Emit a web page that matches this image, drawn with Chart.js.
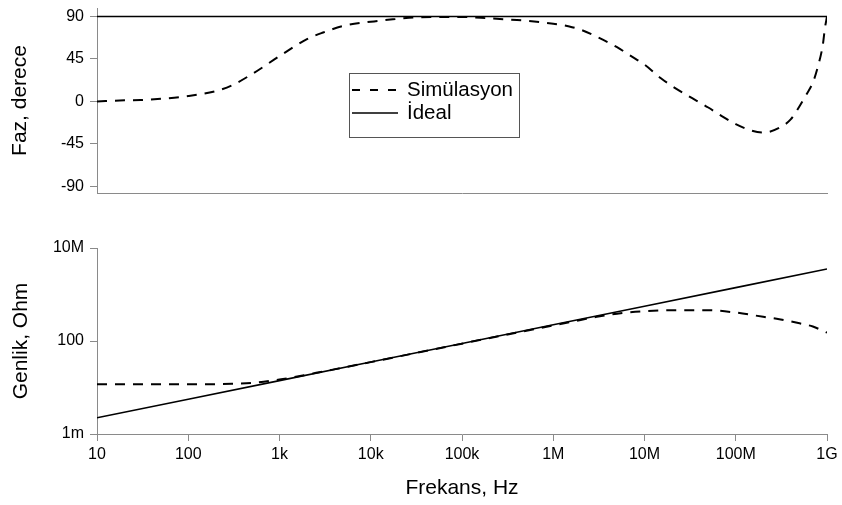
<!DOCTYPE html>
<html lang="tr">
<head>
<meta charset="utf-8">
<title>Faz ve Genlik</title>
<script src="https://cdn.jsdelivr.net/npm/chart.js@4.4.1/dist/chart.umd.min.js"></script>
<style>
  html, body { margin: 0; padding: 0; background: #fff; }
  #wrap { position: relative; width: 842px; height: 505px; }
  #wrap canvas { position: absolute; left: 0; }
  #phase { top: 0; }
  #mag { top: 200px; }
</style>
</head>
<body>
<div id="wrap">
  <canvas id="phase" width="842" height="200"></canvas>
  <canvas id="mag" width="842" height="305"></canvas>
</div>
<script>
// ================== DATA ==================
const xTickVals   = [10, 100, 1e3, 1e4, 1e5, 1e6, 1e7, 1e8, 1e9];
const xTickLabels = ["10", "100", "1k", "10k", "100k", "1M", "10M", "100M", "1G"];

const phaseTickVals = [-90, -45, 0, 45, 90];
const magTickVals   = [1e-3, 1e2, 1e7];
const magTickLabels = ["1m", "100", "10M"];

// phase, degrees (Simülasyon)
const freqPhase = [10, 20, 30, 50, 100, 200, 300, 500, 1e3, 2e3, 3e3, 5e3,
  1e4, 2e4, 3e4, 5e4, 1e5, 2e5, 3e5, 5e5, 1e6, 1.5e6, 2e6, 3e6, 5e6, 7e6,
  1e7, 1.5e7, 2e7, 3e7, 5e7, 7e7, 1e8, 1.5e8, 2e8, 3e8, 4e8, 5e8, 6e8, 7e8, 8e8, 9e8, 9.5e8, 1e9];
const phaseSim = [0, 1.2, 1.5, 2.8, 5.7, 11, 17, 29, 48, 66, 73, 80,
  84.5, 87.5, 89, 89.5, 89.5, 88, 87, 85.6, 82.3, 79.5, 76, 68.5, 57.5, 48.5,
  39, 24.9, 16.3, 6, -6.4, -15.5, -24, -31, -33, -28, -19, -5, 8, 20, 38, 60, 78, 90];

// phase, degrees (İdeal)
const freqPhaseIdeal = [10, 1e9];
const phaseIdeal     = [90, 90];

// magnitude, Ohm (Simülasyon)
const freqMag = [10, 20, 50, 100, 200, 300, 500, 1e3, 2e3, 3e3, 5e3,
  1e4, 1e5, 1e6, 2e6, 3e6, 5e6, 1e7, 2e7, 5e7, 1e8, 2e8, 3e8, 5e8, 7e8, 1e9];
const magSim = [0.47, 0.47, 0.47, 0.47, 0.48, 0.5, 0.56, 0.85, 1.55, 2.3, 3.7,
  7.3, 72, 690, 1350, 2000, 2950, 4000, 4470, 4470, 3390, 2000, 1480, 890, 600, 280];

// magnitude, Ohm (İdeal)
const freqMagIdeal = [10, 100, 1e3, 1e4, 1e5, 1e6, 1e7, 1e8, 1e9];
const magIdeal     = [0.0074, 0.074, 0.74, 7.4, 74, 740, 7400, 74000, 740000];

// ================== HELPERS ==================
const AXIS = "#8a8a8a";
Chart.defaults.font.family = '"Liberation Sans", Arial, sans-serif';
Chart.defaults.color = "#000";

const pts = (xs, ys) => xs.map((x, i) => ({ x, y: ys[i] }));
const fixY = (w) => (s) => { s.width = w; s.paddingTop = 0; s.paddingBottom = 0; };
const fixX = (h) => (s) => { s.height = h; s.paddingLeft = 0; s.paddingRight = 0; };
const setTicks = (vals) => (s) => { s.ticks = vals.map(v => ({ value: v })); };

function simSet(data) {
  return { label: "Simülasyon", data, borderColor: "#000", borderWidth: 2,
    borderDash: [10, 8], pointRadius: 0, cubicInterpolationMode: "monotone", fill: false };
}
function idealSet(data) {
  return { label: "İdeal", data, borderColor: "#000", borderWidth: 1.6,
    pointRadius: 0, fill: false };
}

// boxed legend inside the phase panel
const boxLegend = {
  id: "boxLegend",
  afterDraw(chart, args, o) {
    const { ctx } = chart;
    ctx.save();
    ctx.fillStyle = "#fff";
    ctx.fillRect(o.x, o.y, o.w, o.h);
    ctx.strokeStyle = "#555";
    ctx.lineWidth = 1;
    ctx.strokeRect(o.x + 0.5, o.y + 0.5, o.w, o.h);
    ctx.font = o.font;
    ctx.textBaseline = "middle";
    chart.data.datasets.forEach((ds, i) => {
      const cy = o.y + o.first + i * o.row;
      ctx.beginPath();
      ctx.setLineDash(ds.borderDash ? o.dash : []);
      ctx.lineWidth = ds.borderWidth;
      ctx.strokeStyle = ds.borderColor;
      ctx.moveTo(o.x + 3, cy);
      ctx.lineTo(o.x + 3 + o.sample, cy);
      ctx.stroke();
      ctx.setLineDash([]);
      ctx.fillStyle = "#000";
      ctx.fillText(ds.label, o.x + o.textX, cy);
    });
    ctx.restore();
  }
};

// ================== PHASE ==================
new Chart(document.getElementById("phase"), {
  type: "line",
  data: { datasets: [simSet(pts(freqPhase, phaseSim)), idealSet(pts(freqPhaseIdeal, phaseIdeal))] },
  options: {
    responsive: false, animation: false, events: [],
    layout: { padding: { left: 0, right: 15, top: 8, bottom: 0 } },
    plugins: {
      legend: { display: false }, tooltip: { enabled: false },
      boxLegend: { x: 349, y: 73, w: 170, h: 64, first: 17, row: 23, sample: 46, textX: 58,
        dash: [8, 10], font: '20.5px "Liberation Sans", Arial, sans-serif' }
    },
    scales: {
      x: {
        type: "logarithmic", min: 10, max: 1e9,
        grid: { display: false }, ticks: { display: false },
        border: { color: AXIS, width: 1 },
        afterFit: fixX(7)
      },
      y: {
        min: -97, max: 99,
        afterBuildTicks: setTicks(phaseTickVals),
        ticks: { font: { size: 16 }, padding: 6 },
        grid: { drawOnChartArea: false, color: AXIS, tickLength: 7 },
        border: { color: AXIS },
        title: { display: true, text: "Faz, derece", font: { size: 21 }, padding: { top: 8 } },
        afterFit: fixY(97)
      }
    }
  },
  plugins: [boxLegend]
});

// ================== MAGNITUDE ==================
new Chart(document.getElementById("mag"), {
  type: "line",
  data: { datasets: [simSet(pts(freqMag, magSim)), idealSet(pts(freqMagIdeal, magIdeal))] },
  options: {
    responsive: false, animation: false, events: [],
    layout: { padding: { left: 0, right: 15, top: 48, bottom: 0 } },
    plugins: { legend: { display: false }, tooltip: { enabled: false } },
    scales: {
      x: {
        type: "logarithmic", min: 10, max: 1e9,
        afterBuildTicks: setTicks(xTickVals),
        ticks: { callback: (v, i) => xTickLabels[i], autoSkip: false, maxRotation: 0,
          font: { size: 16 }, padding: 4 },
        grid: { drawOnChartArea: false, color: AXIS, tickLength: 7 },
        border: { color: AXIS },
        title: { display: true, text: "Frekans, Hz", font: { size: 21 }, padding: { top: 0, bottom: 4 } },
        afterFit: fixX(71)
      },
      y: {
        type: "logarithmic", min: 1e-3, max: 1e7,
        afterBuildTicks: setTicks(magTickVals),
        ticks: { callback: (v, i) => magTickLabels[i], font: { size: 16 }, padding: 6 },
        grid: { drawOnChartArea: false, color: AXIS, tickLength: 7 },
        border: { color: AXIS },
        title: { display: true, text: "Genlik, Ohm", font: { size: 21 }, padding: { top: 9 } },
        afterFit: fixY(97)
      }
    }
  }
});
</script>
</body>
</html>
